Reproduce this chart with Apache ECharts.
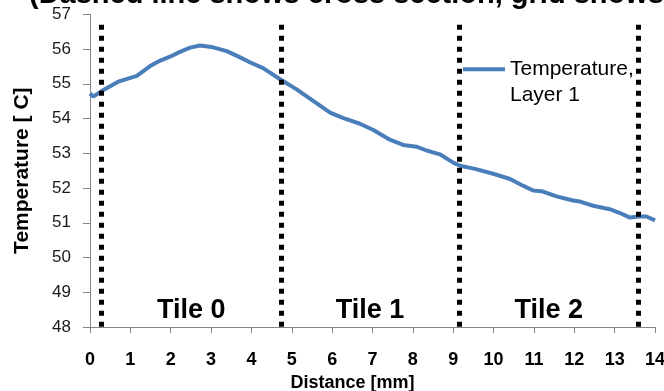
<!DOCTYPE html>
<html>
<head>
<meta charset="utf-8">
<script src="https://cdn.jsdelivr.net/npm/echarts@6/dist/echarts.min.js"></script>
<style>
html,body{margin:0;padding:0;background:#fff;}
#chart{width:664px;height:391px;}
</style>
</head>
<body>
<div id="chart"></div>
<script>
// Data
const distance = [0.0, 0.08, 0.29, 0.70, 1.16, 1.49, 1.73, 1.98, 2.23, 2.48, 2.73, 3.05, 3.39, 3.72, 3.96, 4.29, 4.71, 5.12, 5.53, 5.95, 6.28, 6.69, 7.02, 7.43, 7.76, 8.09, 8.34, 8.67, 9.00, 9.17, 9.54, 9.99, 10.41, 10.74, 10.98, 11.19, 11.56, 11.97, 12.14, 12.47, 12.88, 13.13, 13.38, 13.59, 13.79, 14.0];
const temperature = [54.72, 54.63, 54.79, 55.06, 55.23, 55.51, 55.66, 55.78, 55.92, 56.04, 56.10, 56.05, 55.94, 55.76, 55.62, 55.45, 55.13, 54.84, 54.51, 54.17, 54.01, 53.85, 53.67, 53.39, 53.24, 53.19, 53.08, 52.97, 52.73, 52.64, 52.55, 52.41, 52.26, 52.06, 51.93, 51.91, 51.76, 51.64, 51.61, 51.49, 51.39, 51.28, 51.15, 51.18, 51.18, 51.07];
const sectionLines = [0.29, 4.73, 9.15, 13.59];
const sectionTop = 56.7;
const tileNames = ['Tile 0', 'Tile 1', 'Tile 2'];
const seriesName = 'Temperature,\nLayer 1';
const titleText = '(Dashed line shows cross section, grid shows tiles)';
const xAxisName = 'Distance [mm]';
const yAxisName = 'Temperature [ C]';

const chart = echarts.init(document.getElementById('chart'), null, {renderer: 'canvas'});
const FONT = 'Liberation Sans, Arial, sans-serif';

const lineData = distance.map((d, i) => [d, temperature[i]]);
const markLines = sectionLines.map(x => [{coord: [x, sectionTop]}, {coord: [x, 48]}]);
const markAreas = tileNames.map((n, i) => [{xAxis: sectionLines[i], name: n}, {xAxis: sectionLines[i + 1]}]);

chart.setOption({
  animation: false,
  backgroundColor: '#ffffff',
  textStyle: {fontFamily: FONT},
  graphic: [{
    type: 'text', left: 29, top: -20, silent: true,
    style: {text: titleText, font: 'bold 29px ' + FONT, fill: '#000'}
  }],
  grid: {left: 90, right: 9, top: 14.3, bottom: 64, containLabel: false, outerBoundsMode: 'none'},
  legend: {
    show: true, left: 463, top: 30.3, padding: 0, itemWidth: 42, itemHeight: 4, itemGap: 0,
    icon: 'rect',
    data: [seriesName],
    formatter: name => '\n' + name,
    textStyle: {fontSize: 21, fontFamily: FONT, color: '#000', lineHeight: 26}
  },
  xAxis: {
    type: 'value', min: 0, max: 14, interval: 1,
    name: xAxisName, nameLocation: 'middle', nameGap: 44,
    nameTextStyle: {fontSize: 18, fontWeight: 'bold', color: '#000', fontFamily: FONT, padding: [0, 40, 0, 0]},
    axisLine: {show: true, lineStyle: {color: '#868686', width: 1}},
    axisTick: {show: true, length: 6, lineStyle: {color: '#868686'}},
    axisLabel: {fontSize: 18, fontWeight: 'bold', color: '#000', margin: 24, fontFamily: FONT},
    splitLine: {show: false}
  },
  yAxis: {
    type: 'value', min: 48, max: 57, interval: 1,
    name: yAxisName, nameLocation: 'middle', nameGap: 57, nameRotate: 90,
    nameTextStyle: {fontSize: 21, fontWeight: 'bold', color: '#000', fontFamily: FONT},
    axisLine: {show: true, lineStyle: {color: '#868686', width: 1}},
    axisTick: {show: true, length: 7, lineStyle: {color: '#868686'}},
    axisLabel: {fontSize: 17, color: '#1a1a1a', margin: 19, fontFamily: FONT},
    splitLine: {show: false}
  },
  series: [{
    name: seriesName,
    type: 'line',
    data: lineData,
    showSymbol: false,
    symbol: 'none',
    smooth: false,
    lineStyle: {color: '#4a7ebb', width: 4},
    itemStyle: {color: '#4a7ebb'},
    z: 3,
    markLine: {
      silent: true, symbol: ['none', 'none'],
      lineStyle: {color: '#000', width: 5, type: [5, 6], cap: 'butt'},
      label: {show: false},
      data: markLines,
      z: 4
    },
    markArea: {
      silent: true,
      itemStyle: {color: 'rgba(0,0,0,0)'},
      label: {show: true, position: 'insideBottom', distance: 3, fontSize: 27, fontWeight: 'bold', color: '#000', fontFamily: FONT},
      data: markAreas
    }
  }]
});
</script>
</body>
</html>
